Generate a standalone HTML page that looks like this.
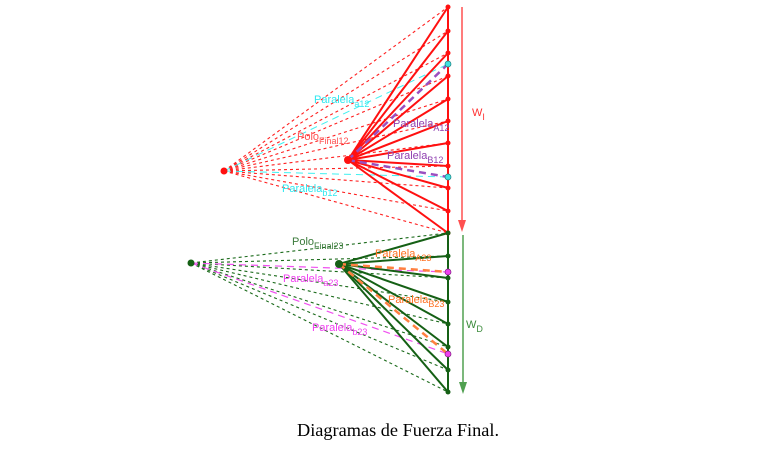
<!DOCTYPE html>
<html><head><meta charset="utf-8"><style>
html,body{margin:0;padding:0;background:#fff;width:777px;height:449px;overflow:hidden}
svg{position:absolute;left:0;top:0}
.cap{position:absolute;left:297px;top:420px;font-family:"Liberation Serif",serif;font-size:18.3px;color:#000;white-space:nowrap}
</style></head><body>
<svg id="s" width="777" height="449" xmlns="http://www.w3.org/2000/svg" font-family="Liberation Sans, sans-serif"></svg>
<div class="cap">Diagramas de Fuerza Final.</div>
<script>
var s=document.getElementById('s'),ns='http://www.w3.org/2000/svg';
function el(t,a,txt){var e=document.createElementNS(ns,t);for(var k in a)e.setAttribute(k,a[k]);if(txt)e.textContent=txt;s.appendChild(e);return e;}
function line(x1,y1,x2,y2,c,w,d){var a={x1:x1,y1:y1,x2:x2,y2:y2,stroke:c,'stroke-width':w};if(d)a['stroke-dasharray']=d;el('line',a);}
var X=448;
var R=[7,31,53,76,99,121,143,166,188,211,233];
var G=[233,256,278,302,324,347,370,392];
R.forEach(function(y){line(224,171,X,y,'#ff2020',1.1,'3,3');});
line(224,171,X,64,'#40f0f0',1,'7,5');line(224,171,X,177,'#40f0f0',1,'7,5');
R.forEach(function(y){line(348,160,X,y,'#ff1010',2);});
line(348,160,X,64,'#9a50c0',2.5,'7,5');line(348,160,X,177,'#9a50c0',2.5,'7,5');
line(X,7,X,233,'#ff1010',2);
line(462,7,462,222,'#ff5050',1.5);el('polygon',{points:'458,220 466,220 462,232',fill:'#ff5050'});
G.forEach(function(y){line(191,263,X,y,'#1a6a1a',1.1,'3,3');});
line(191,263,X,272,'#f050f0',1.2,'7,5');line(191,263,X,354,'#f050f0',1.2,'7,5');
G.forEach(function(y){line(339,264,X,y,'#156015',2);});
line(339,264,X,272,'#ff8040',2.5,'7,5');line(339,264,X,354,'#ff8040',2.5,'7,5');
line(X,233,X,392,'#156015',2);
line(463,235,463,384,'#50a050',1.5);el('polygon',{points:'459,382 467,382 463,394',fill:'#50a050'});
R.forEach(function(y){el('circle',{cx:X,cy:y,r:2.5,fill:'#ff1010'});});
[64,177].forEach(function(y){el('circle',{cx:X,cy:y,r:3,fill:'#40e0e0',stroke:'#208080','stroke-width':0.7});});
G.forEach(function(y){el('circle',{cx:X,cy:y,r:2.5,fill:'#156015'});});
[272,354].forEach(function(y){el('circle',{cx:X,cy:y,r:3,fill:'#f040f0',stroke:'#802080','stroke-width':0.7});});
el('circle',{cx:348,cy:160,r:4,fill:'#ff1010'});el('circle',{cx:224,cy:171,r:3.5,fill:'#ff1010'});
el('circle',{cx:339,cy:264,r:4,fill:'#156015'});el('circle',{cx:191,cy:263,r:3.5,fill:'#156015'});
function lab(x,y,m,sub,c){var t=el('text',{x:x,y:y,fill:c,'font-size':11});var a=document.createElementNS(ns,'tspan');a.textContent=m;t.appendChild(a);var b=document.createElementNS(ns,'tspan');b.setAttribute('dy',4);b.setAttribute('font-size',9);b.textContent=sub;t.appendChild(b);}
lab(314,103,'Paralela','a12','#30e8f0');
lab(297,140,'Polo','Final12','#ff5050');
lab(393,127,'Paralela','A12','#9040b0');
lab(387,159,'Paralela','B12','#9040b0');
lab(282,192,'Paralela','b12','#30e8f0');
lab(472,116,'W','I','#ff3030');
lab(292,245,'Polo','Final23','#3a7a3a');
lab(375,257,'Paralela','A23','#ff7020');
lab(283,282,'Paralela','a23','#f040f0');
lab(388,303,'Paralela','B23','#ff7020');
lab(312,331,'Paralela','b23','#f040f0');
lab(466,328,'W','D','#3a8a3a');
</script>
</body></html>
